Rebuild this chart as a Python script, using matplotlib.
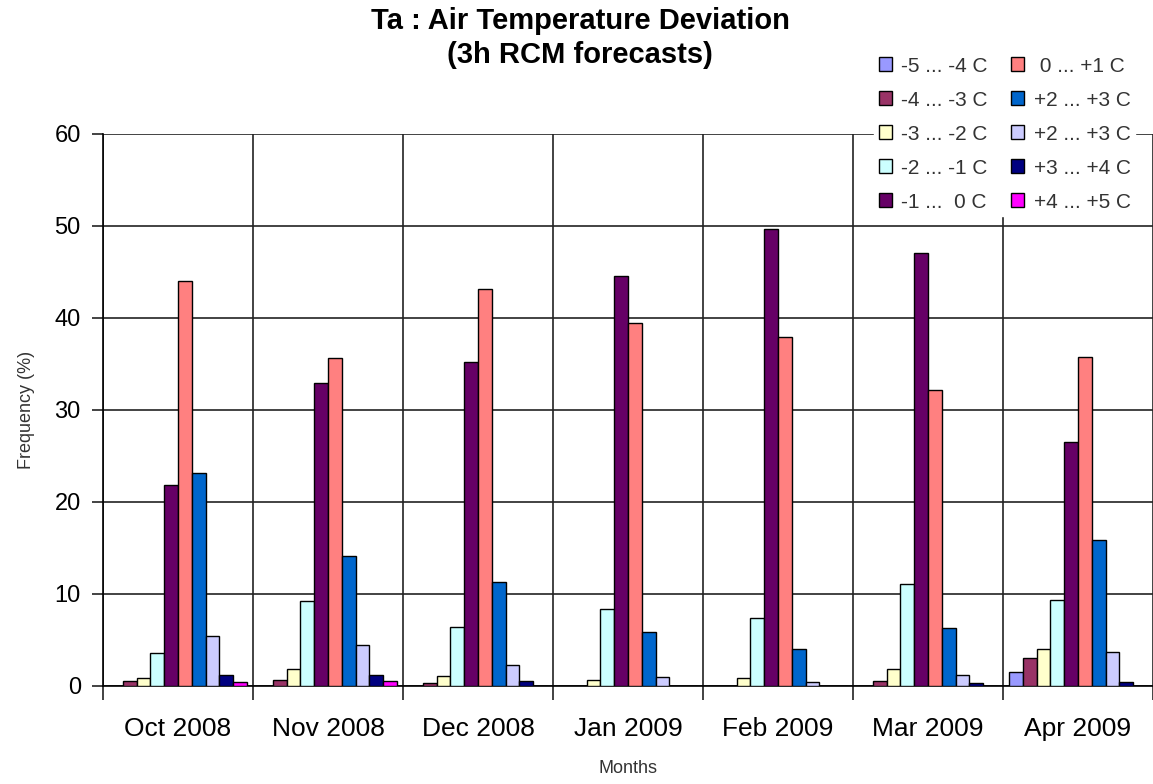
import numpy as np
import matplotlib
matplotlib.use('Agg')
import matplotlib.pyplot as plt

plt.rcParams['font.family'] = ['Liberation Sans', 'DejaVu Sans']

# data
months = ['Oct 2008', 'Nov 2008', 'Dec 2008', 'Jan 2009', 'Feb 2009', 'Mar 2009', 'Apr 2009']
labels = ['-5 ... -4 C', '-4 ... -3 C', '-3 ... -2 C', '-2 ... -1 C', '-1 ...  0 C',
          ' 0 ... +1 C', '+2 ... +3 C', '+2 ... +3 C', '+3 ... +4 C', '+4 ... +5 C']
colors = ['#9999FF', '#993366', '#FFFFCC', '#CCFFFF', '#660066',
          '#FF8080', '#0066CC', '#CCCCFF', '#000080', '#FF00FF']

m5_4 = [0.0, 0.0, 0.0, 0.0, 0.0, 0.0, 1.5]
m4_3 = [0.5, 0.6, 0.3, 0.0, 0.0, 0.5, 3.0]
m3_2 = [0.9, 1.9, 1.1, 0.7, 0.9, 1.9, 4.0]
m2_1 = [3.6, 9.2, 6.4, 8.4, 7.4, 11.1, 9.4]
m1_0 = [21.8, 32.9, 35.2, 44.6, 49.7, 47.1, 26.5]
p0_1 = [44.0, 35.6, 43.2, 39.5, 37.9, 32.2, 35.8]
p1_2 = [23.1, 14.1, 11.3, 5.9, 4.0, 6.3, 15.9]
p2_3 = [5.4, 4.5, 2.3, 1.0, 0.4, 1.2, 3.7]
p3_4 = [1.2, 1.2, 0.5, 0.0, 0.0, 0.3, 0.4]
p4_5 = [0.4, 0.5, 0.0, 0.0, 0.0, 0.0, 0.0]

series = [m5_4, m4_3, m3_2, m2_1, m1_0, p0_1, p1_2, p2_3, p3_4, p4_5]

fig = plt.figure(figsize=(11.53, 7.84), dpi=100)
ax = fig.add_axes([103 / 1153, 1 - 686 / 784, 1 - 103 / 1153, (686 - 134) / 784])

x = np.arange(len(months))
w = 0.092
for i, vals in enumerate(series):
    ax.bar(x + (i - 4.5) * w, vals, w, color=colors[i], edgecolor='black',
           linewidth=1.0, label=labels[i], zorder=3)

ax.set_xlim(-0.5, len(months) - 0.5)
ax.set_ylim(0, 60)
ax.set_yticks(np.arange(0, 61, 10))

# group boundaries as minor ticks with gridlines
ax.set_xticks(x)
ax.set_xticklabels(months, fontsize=19)
ax.set_xticks(np.arange(-0.5, len(months), 1.0), minor=True)
ax.tick_params(axis='x', which='major', length=0, pad=22)
ax.tick_params(axis='x', which='minor', length=10, width=1.2, color='#222222')
ax.tick_params(axis='y', length=8, width=1.2, labelsize=17, pad=8, color='#222222')
ax.grid(True, axis='y', which='major', color='#222222', linewidth=1.2, zorder=0)
ax.grid(True, axis='x', which='minor', color='#222222', linewidth=1.2, zorder=0)

for s in ['top', 'right']:
    ax.spines[s].set_visible(False)
ax.spines['left'].set_linewidth(1.2)
ax.spines['bottom'].set_linewidth(1.2)

ax.set_ylabel('Frequency (%)', fontsize=13, color='#333333', labelpad=14)
ax.set_xlabel('Months', fontsize=13, color='#333333', labelpad=14)

fig.text(0.503, 1 - 21 / 784, 'Ta : Air Temperature Deviation', ha='center', va='center',
         fontsize=21, fontweight='bold')
fig.text(0.503, 1 - 55 / 784, '(3h RCM forecasts)', ha='center', va='center',
         fontsize=21, fontweight='bold')

leg = ax.legend(loc='upper left', bbox_to_anchor=(864 / 1153, 1 - 42 / 784),
                bbox_transform=fig.transFigure, ncol=2, fontsize=15,
                handlelength=0.65, handleheight=0.65, handletextpad=0.45,
                labelspacing=0.72, columnspacing=1.1, borderpad=0.2,
                frameon=True, fancybox=False, framealpha=1.0)
leg.get_frame().set_edgecolor('white')
for t in leg.get_texts():
    t.set_color('#333333')

fig.savefig('out.png', dpi=100)
